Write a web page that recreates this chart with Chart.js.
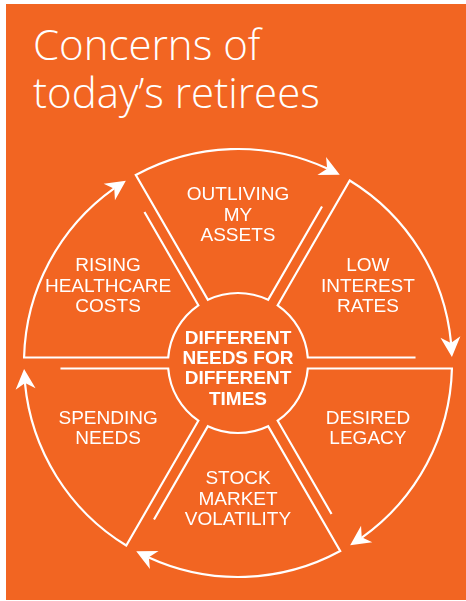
<!DOCTYPE html>
<html>
<head>
<meta charset="utf-8">
<script src="https://cdn.jsdelivr.net/npm/chart.js@4/dist/chart.umd.min.js"></script>
<style>
  html, body { margin: 0; padding: 0; background: #fff; }
  #panel { position: absolute; left: 6px; top: 4px; width: 460px; height: 596px; background: #F26522; }
  h1 { position: absolute; left: 33px; top: 20px; margin: 0; color: #fff;
       font: 300 42px "Open Sans", sans-serif; line-height: 48px; white-space: nowrap; }
  canvas { position: absolute; left: 0; top: 0; }
</style>
</head>
<body>
<div id="panel"></div>
<h1>Concerns of<br>today’s retirees</h1>
<canvas id="wheel" width="466" height="601"></canvas>
<script>
// segments, clockwise from the top
const concerns = [
  ["OUTLIVING", "MY", "ASSETS"],
  ["LOW", "INTEREST", "RATES"],
  ["DESIRED", "LEGACY"],
  ["STOCK", "MARKET", "VOLATILITY"],
  ["SPENDING", "NEEDS"],
  ["RISING", "HEALTHCARE", "COSTS"]
];
const weights = [1, 1, 1, 1, 1, 1];
const centerText = ["DIFFERENT", "NEEDS FOR", "DIFFERENT", "TIMES"];

const GAP = 5.5;      // half the space between neighbouring segments
const WHITE = "#fff";

const wheelPlugin = {
  id: "wheel",
  afterDatasetsDraw(chart) {
    const ctx = chart.ctx;
    const arcs = chart.getDatasetMeta(0).data;
    ctx.save();
    ctx.strokeStyle = WHITE;
    ctx.fillStyle = WHITE;
    ctx.lineWidth = 2.2;
    ctx.lineJoin = "miter";

    arcs.forEach((arc, i) => {
      const { x, y, startAngle, endAngle, innerRadius: ri, outerRadius: ro } =
        arc.getProps(["x", "y", "startAngle", "endAngle", "innerRadius", "outerRadius"], true);
      const P = (r, a) => [x + r * Math.cos(a), y + r * Math.sin(a)];

      const a0o = startAngle + Math.asin(GAP / ro);
      const a0i = startAngle + Math.asin(GAP / ri);
      const a1i = endAngle - Math.asin(GAP / ri);
      const rs = ro * 0.83;
      const a1s = endAngle - Math.asin(GAP / rs);

      // arrow head at the clockwise end of the outer rim
      const L = 20, W = 10, N = 6;
      const aTip = endAngle - 6 / ro;
      const aNotch = aTip - (L - N) / ro;
      const [tx, ty] = P(ro, aTip);
      const [bx0, by0] = P(ro, aTip - L / ro);
      let dx = tx - bx0, dy = ty - by0;
      const len = Math.hypot(dx, dy); dx /= len; dy /= len;
      const bx = tx - L * dx, by = ty - L * dy;
      const nx = tx - (L - N) * dx, ny = ty - (L - N) * dy;

      // rim, long edge, inner arc, short edge
      ctx.beginPath();
      ctx.arc(x, y, ro, aNotch, a0o, true);
      ctx.lineTo(...P(ri, a0i));
      ctx.arc(x, y, ri, a0i, a1i, false);
      ctx.lineTo(...P(rs, a1s));
      ctx.stroke();

      ctx.beginPath();
      ctx.moveTo(tx, ty);
      ctx.lineTo(bx - W * dy, by + W * dx);
      ctx.lineTo(nx, ny);
      ctx.lineTo(bx + W * dy, by - W * dx);
      ctx.closePath();
      ctx.fill();

      // segment label
      const mid = (startAngle + endAngle) / 2;
      const lx = x + 150 * Math.cos(mid);
      const ly = y - 7 + 142 * Math.sin(mid);
      const lines = chart.data.labels[i];
      ctx.font = '19px "Liberation Sans", Arial, sans-serif';
      ctx.textAlign = "center";
      ctx.textBaseline = "alphabetic";
      lines.forEach((t, k) => {
        ctx.fillText(t, lx, ly + (k - (lines.length - 1) / 2) * 20.5 + 6.8);
      });
    });

    // centre text
    const { x, y } = arcs[0];
    ctx.font = 'bold 19px "Liberation Sans", Arial, sans-serif';
    ctx.textAlign = "center";
    centerText.forEach((t, k) => {
      ctx.fillText(t, x, y + 4.5 + (k - (centerText.length - 1) / 2) * 20.3 + 6.8);
    });
    ctx.restore();
  }
};

new Chart(document.getElementById("wheel"), {
  type: "doughnut",
  data: {
    labels: concerns,
    datasets: [{
      data: weights,
      backgroundColor: "rgba(0,0,0,0)",
      borderWidth: 0,
      hoverOffset: 0
    }]
  },
  options: {
    responsive: false,
    animation: false,
    rotation: -30,
    cutout: 70,
    events: [],
    layout: { padding: { left: 24, right: 14, top: 149, bottom: 24 } },
    plugins: {
      legend: { display: false },
      tooltip: { enabled: false }
    }
  },
  plugins: [wheelPlugin]
});
</script>
</body>
</html>
